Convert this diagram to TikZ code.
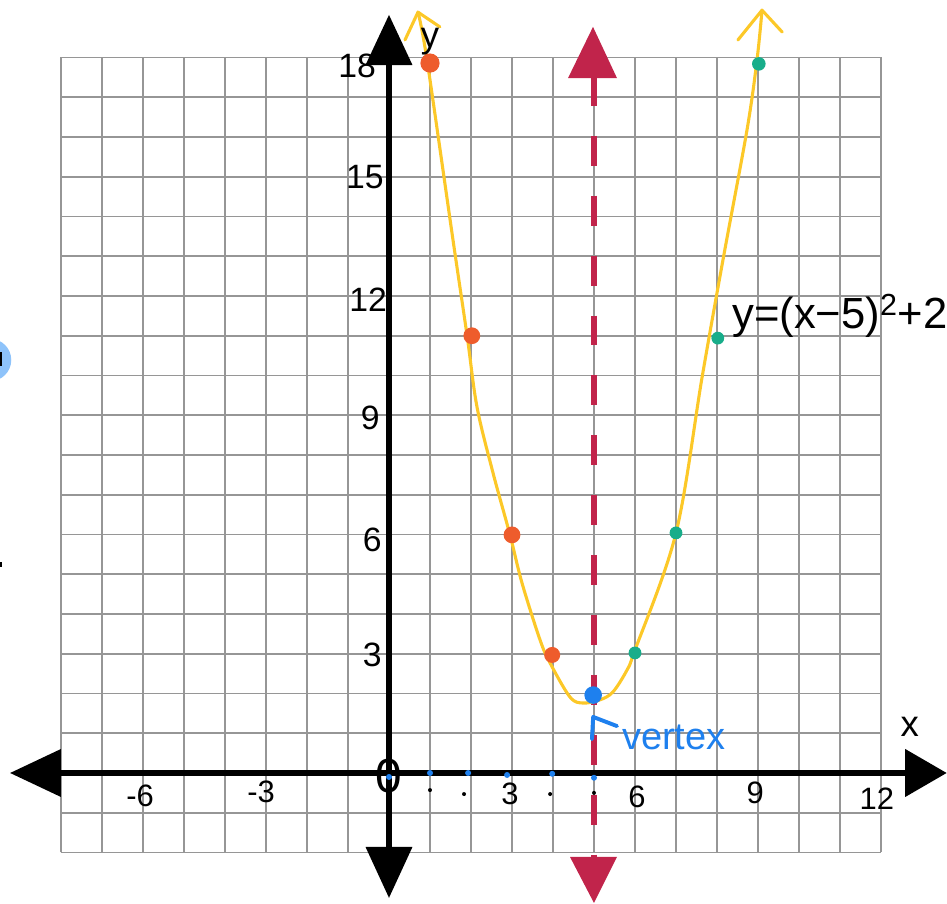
\documentclass[tikz,border=0pt]{standalone}
\usepackage{fontspec}
\setmainfont{Liberation Sans}
\definecolor{crim}{RGB}{193,36,75}
\definecolor{gold}{RGB}{252,200,40}
\definecolor{orng}{RGB}{238,92,44}
\definecolor{teal2}{RGB}{24,173,138}
\definecolor{vblue}{RGB}{30,128,238}
\definecolor{lblue}{RGB}{142,195,250}
\definecolor{gridc}{RGB}{150,150,150}
\begin{document}
\begin{tikzpicture}[x=1.025cm,y=0.99375cm,
  gridline/.style={draw=gridc,line width=1.3pt},
  axisline/.style={line width=3.6pt,black},
  axishead/.style={fill=black},
  symline/.style={crim,line width=3.6pt,dash pattern=on 21.3pt off 21.3pt},
  symhead/.style={fill=crim},
  curve/.style={gold,line width=2.2pt,line cap=round,line join=round},
  odot/.style={fill=orng},
  tdot/.style={fill=teal2},
  bdot/.style={fill=vblue},
  ynum/.style={font=\fontsize{24}{28}\selectfont,inner sep=0pt},
  xnum/.style={font=\fontsize{22}{26}\selectfont,inner sep=0pt},
  axlab/.style={font=\fontsize{26}{30}\selectfont,inner sep=0pt},
]
\useasboundingbox (-9.4878,-3.2956) rectangle (13.6098,19.4465);
% grid
\foreach \i in {-8,...,12} \draw[gridline] (\i,-2) -- (\i,18);
\foreach \j in {-2,...,18} \draw[gridline] (-8,\j) -- (12,\j);
% stray marks at left edge
\fill[lblue] (-9.73,10.39) circle[radius=0.53cm];
\fill[black] (-9.49,10.24) rectangle (-9.44,10.58);
\fill[black] (-9.49,5.3) rectangle (-9.44,5.17);
% axes
\coordinate (xl) at (-8,0);
\coordinate (xr) at (12.59,0);
\coordinate (yt) at (0,17.81);
\coordinate (yb) at (0,-1.86);
\draw[axisline] (xl) -- (xr);
\draw[axisline] (yb) -- (yt);
\fill[axishead] (-9.24,0) -- (-8,0.604) -- (-8,-0.604) -- cycle;
\fill[axishead] (13.6,0) -- (12.59,0.604) -- (12.59,-0.604) -- cycle;
\fill[axishead] (0,19.07) -- (-0.573,17.81) -- (0.573,17.81) -- cycle;
\fill[axishead] (0,-3.14) -- (-0.573,-1.86) -- (0.573,-1.86) -- cycle;
% axis of symmetry
\coordinate (st) at (5,17.535);
\coordinate (sb) at (5,-2.11);
\draw[symline] (st) -- (sb);
\fill[symhead] (4.976,18.77) -- (4.366,17.48) -- (5.561,17.48) -- cycle;
\fill[symhead] (5.0,-3.27) -- (4.415,-2.113) -- (5.561,-2.113) -- cycle;
% parabola
\draw[curve] plot[smooth,tension=0.55] coordinates {(0.707,19.14) (0.927,17.94) (1.561,13.41) (1.902,11.02) (2.146,9.21) (2.537,7.55) (2.951,5.99) (3.244,4.78) (3.683,3.35) (3.927,2.77) (4.415,1.91) (4.732,1.76) (5.146,1.84) (5.463,2.04) (5.805,2.59) (6.0,3.09) (7.0,6.04) (7.634,9.94) (8.146,12.91) (8.732,16.18) (8.976,17.94) (9.098,19.19)};
\draw[curve] (0.39,18.44) -- (0.707,19.14) -- (1.24,18.77);
\draw[curve] (8.51,18.44) -- (9.098,19.19) -- (9.59,18.64);
% points
\fill[odot] (1.0,17.86) circle[radius=0.24cm];
\fill[odot] (2.02,11.0) circle[radius=0.21cm];
\fill[odot] (3.0,5.99) circle[radius=0.21cm];
\fill[odot] (3.98,2.97) circle[radius=0.2cm];
\fill[bdot] (4.98,1.96) circle[radius=0.22cm];
\fill[tdot] (6.0,3.02) circle[radius=0.16cm];
\fill[tdot] (7.0,6.04) circle[radius=0.16cm];
\fill[tdot] (8.02,10.94) circle[radius=0.16cm];
\fill[tdot] (9.02,17.84) circle[radius=0.17cm];
% small dots on x axis
\foreach \p in {(0,-0.1),(1.0,0),(1.93,0),(2.88,-0.05),(3.98,-0.02),(5,-0.12)} \fill[vblue] \p circle[radius=0.075cm];
\foreach \p in {(1.0,-0.43),(1.83,-0.53),(3.93,-0.53),(5,-0.5)} \fill[black] \p circle[radius=0.05cm];
% labels
\node[ynum] (n18) at (-0.78,17.8) {18};
\node[ynum] (n15) at (-0.59,15.0) {15};
\node[ynum] (n12) at (-0.51,11.9) {12};
\node[ynum] (n9) at (-0.46,8.93) {9};
\node[ynum] (n6) at (-0.41,5.86) {6};
\node[ynum] (n3) at (-0.41,2.97) {3};
\node[font=\fontsize{34}{38}\selectfont,inner sep=0pt] (n0) at (0,-0.08) {0};
\node[xnum] (m6) at (-6.07,-0.58) {-6};
\node[xnum] (m3) at (-3.12,-0.48) {-3};
\node[xnum] (p3) at (2.95,-0.53) {3};
\node[xnum] (p6) at (6.05,-0.6) {6};
\node[xnum] (p9) at (8.93,-0.5) {9};
\node[xnum] (p12) at (11.9,-0.65) {12};
\node[axlab] (xlab) at (12.7,1.16) {x};
\node[axlab] (ylab) at (1.0,18.4) {y};
\node[font=\fontsize{31}{34}\selectfont,inner sep=0pt,anchor=west] (eq) at (8.37,11.5) {y=(x−5)\textsuperscript{2}+2};
% vertex note
\node[font=\fontsize{27}{30}\selectfont,inner sep=0pt,text=vblue] (vt) at (6.95,0.9) {vertex};
\draw[vblue,line width=2.8pt,line cap=round,line join=round] (4.95,0.85) -- (4.98,1.41) -- (5.56,1.18);
\end{tikzpicture}
\end{document}
